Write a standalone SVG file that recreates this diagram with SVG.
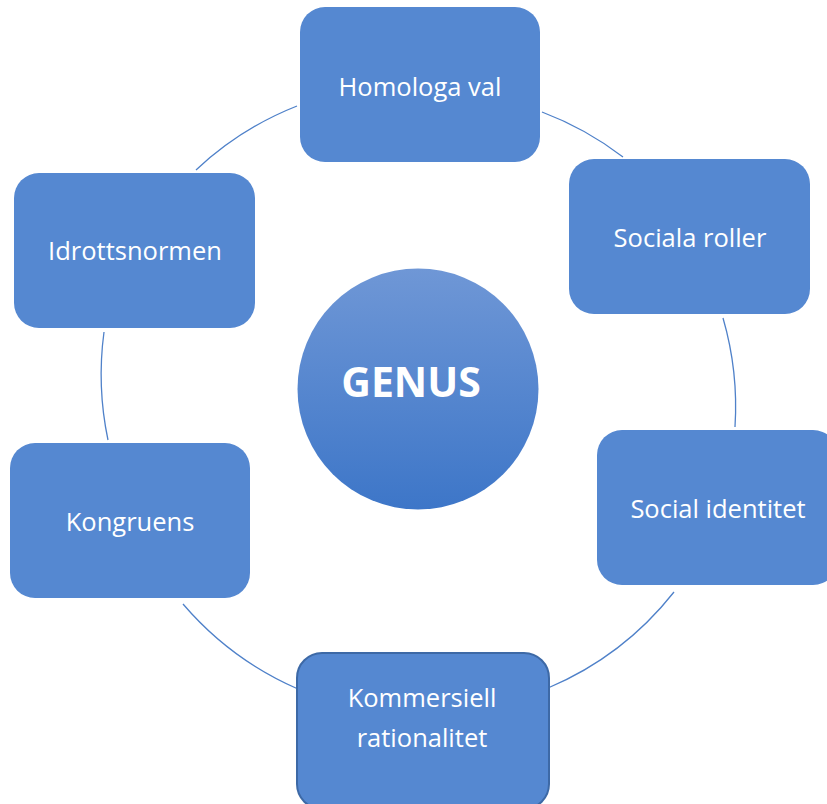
<svg xmlns="http://www.w3.org/2000/svg" width="827" height="804" viewBox="0 0 827 804">
  <defs>
    <linearGradient id="hubFill" x1="0" y1="0" x2="0" y2="1">
      <stop offset="0" stop-color="#6f97d6"/>
      <stop offset="1" stop-color="#3d76c8"/>
    </linearGradient>
  </defs>
  <style>
    .box { fill: #5588d1; }
    .box-sel { fill: #5588d1; stroke: #3d69a6; stroke-width: 2; }
    .lbl { font-family: "Open Sans", "Noto Sans", sans-serif; font-size: 25.5px; fill: #ffffff; text-anchor: middle; }
    .hub { font-family: "Open Sans", "Noto Sans", sans-serif; font-size: 41px; font-weight: bold; fill: #ffffff; text-anchor: middle; }
    .arc { fill: none; stroke: #4f81c9; stroke-width: 1.3; }
  </style>

  <!-- ring segments between the outer nodes -->
  <g id="connectors">
    <path class="arc" d="M542,112 A318,318 0 0 1 623,157"/>
    <path class="arc" d="M723,318 A318,318 0 0 1 735,427"/>
    <path class="arc" d="M674,592 A318,318 0 0 1 548,688"/>
    <path class="arc" d="M298,689 A318,318 0 0 1 183,604"/>
    <path class="arc" d="M108,440 A318,318 0 0 1 104,332"/>
    <path class="arc" d="M196,170 A318,318 0 0 1 297,106"/>
  </g>

  <g id="genus">
    <circle cx="418" cy="389" r="120.5" fill="url(#hubFill)"/>
    <text class="hub" x="411" y="397">GENUS</text>
  </g>

  <g id="homologa-val">
    <rect class="box" x="300" y="7" width="240" height="155" rx="25"/>
    <text class="lbl" x="420" y="96">Homologa val</text>
  </g>

  <g id="sociala-roller">
    <rect class="box" x="569" y="159" width="241" height="155" rx="25"/>
    <text class="lbl" x="690" y="247">Sociala roller</text>
  </g>

  <g id="social-identitet">
    <rect class="box" x="597" y="430" width="241" height="155" rx="25"/>
    <text class="lbl" x="718" y="518">Social identitet</text>
  </g>

  <g id="kommersiell-rationalitet">
    <rect class="box-sel" x="297" y="653" width="252" height="156" rx="25"/>
    <text class="lbl" x="422" y="707">Kommersiell</text>
    <text class="lbl" x="422" y="747">rationalitet</text>
  </g>

  <g id="kongruens">
    <rect class="box" x="10" y="443" width="240" height="155" rx="25"/>
    <text class="lbl" x="130" y="531">Kongruens</text>
  </g>

  <g id="idrottsnormen">
    <rect class="box" x="14" y="173" width="241" height="155" rx="25"/>
    <text class="lbl" x="135" y="260">Idrottsnormen</text>
  </g>
</svg>
